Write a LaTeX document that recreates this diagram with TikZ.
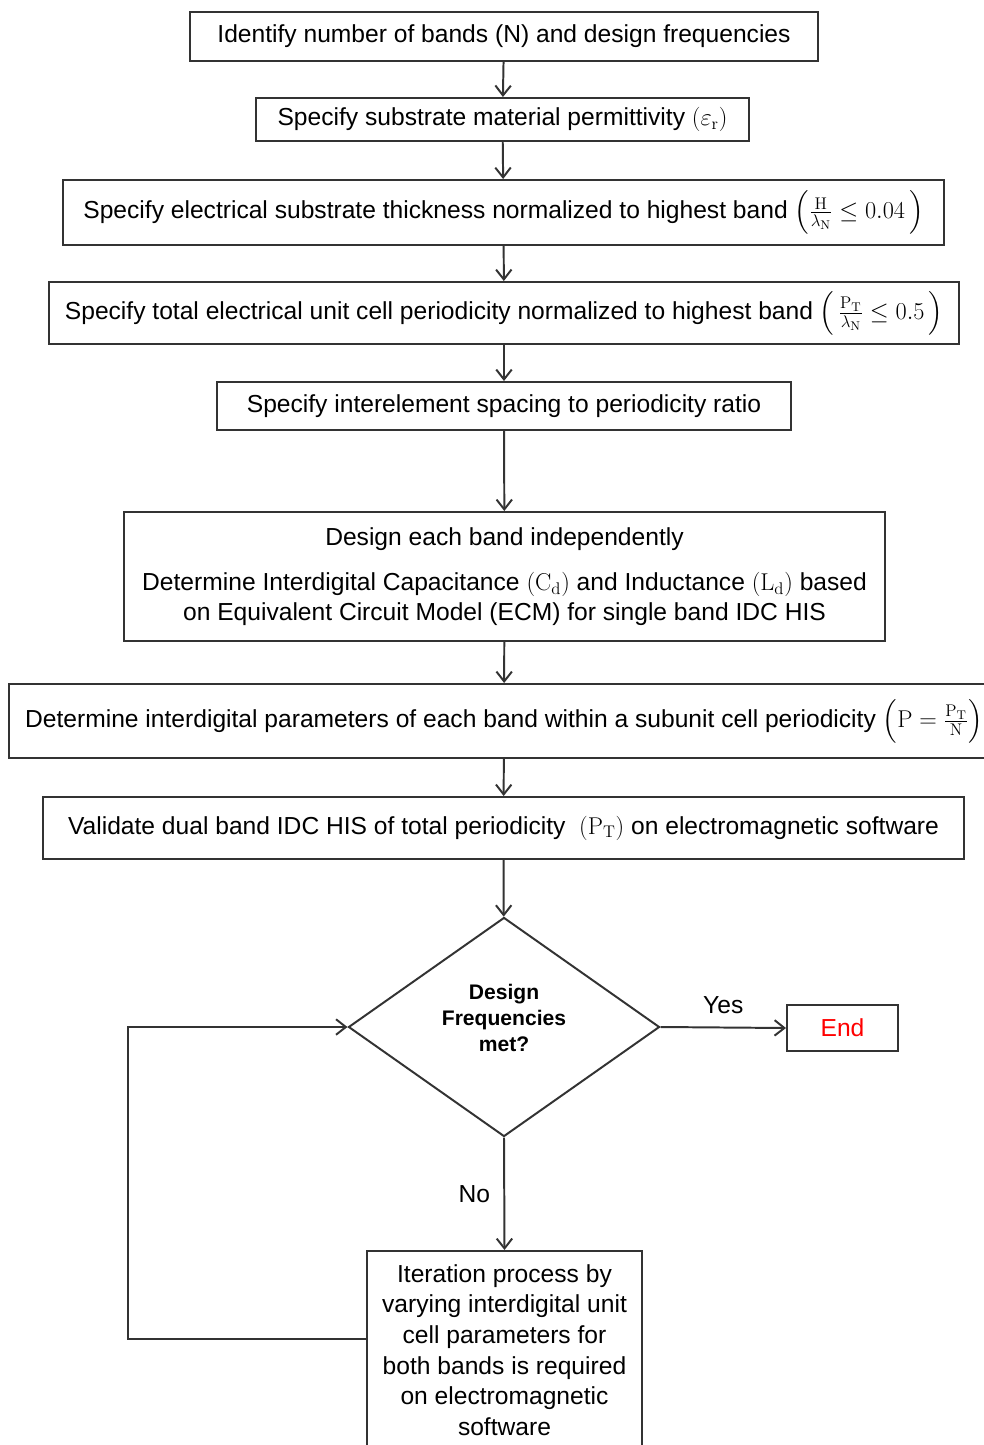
\documentclass[tikz,border=0pt]{standalone}
\usepackage{amsmath}
\usepackage[no-math]{fontspec}
\setmainfont{Liberation Sans}
\usetikzlibrary{shapes.geometric, arrows.meta, positioning}

\begin{document}
\begin{tikzpicture}[x=0.025cm, y=-0.025cm,
    font=\fontsize{17.5}{21.3}\selectfont,
    box/.style={draw=black!80, line width=1.4pt, align=center, inner sep=2pt},
    arrow/.style={-{Straight Barb[length=7pt, width=11pt]}, line width=1.4pt, draw=black!80}]
    \useasboundingbox (0,0) rectangle (984,1445);

    % steps of the design procedure
    \node[box, minimum width=15.7cm, minimum height=1.225cm] (bands) at (504,36.5)
        {Identify number of bands (N) and design frequencies};
    \node[box, minimum width=12.325cm, minimum height=1.075cm] (perm) at (502.5,119.5)
        {Specify substrate material permittivity $(\varepsilon_{\mathrm{r}})$};
    \node[box, minimum width=22.025cm, minimum height=1.625cm] (thick) at (503.5,212.5)
        {Specify electrical substrate thickness normalized to highest band $\left(\frac{\mathrm{H}}{\lambda_{\mathrm{N}}} \leq 0.04\,\right)$};
    \node[box, minimum width=22.75cm, minimum height=1.55cm] (period) at (504,313)
        {Specify total electrical unit cell periodicity normalized to highest band $\left(\,\frac{\mathrm{P_T}}{\lambda_{\mathrm{N}}} \leq 0.5\,\right)$};
    \node[box, minimum width=14.35cm, minimum height=1.2cm] (ratio) at (504,406)
        {Specify interelement spacing to periodicity ratio};
    \node[box, minimum width=19.025cm, minimum height=3.225cm] (ecm) at (504.5,576.5)
        {Design each band independently\\[11pt]
         Determine Interdigital Capacitance $(\mathrm{C_d})$ and Inductance $(\mathrm{L_d})$ based\\
         on Equivalent Circuit Model (ECM) for single band IDC HIS};
    \node[box, minimum width=24.75cm, minimum height=1.85cm] (idc) at (504,721)
        {Determine interdigital parameters of each band within a subunit cell periodicity $\Bigl(\mathrm{P} = \frac{\mathrm{P_T}}{\mathrm{N}}\Bigr)$};
    \node[box, minimum width=23.025cm, minimum height=1.55cm] (valid) at (503.5,828)
        {Validate dual band IDC HIS of total periodicity \ $(\mathrm{P_T})$ on electromagnetic software};

    % decision and outcomes
    \node[diamond, draw=black!80, line width=1.4pt, minimum width=7.775cm, minimum height=5.475cm,
          inner sep=0pt, align=center, font=\fontsize{15}{18.4}\selectfont\bfseries] (met) at (504,1027)
        {Design\\Frequencies\\met?\\[-5pt]};
    \node[box, minimum width=2.775cm, minimum height=1.15cm, text=red] (end) at (842.5,1028) {End};
    \node[box, minimum width=6.875cm, minimum height=4.95cm, anchor=north, inner ysep=4pt,
          font=\fontsize{17.5}{21.8}\selectfont] (iter) at (504.5,1250)
        {Iteration process by\\varying interdigital unit\\cell parameters for\\both bands is required\\on electromagnetic\\software};
    \coordinate (loop) at (128,1339);

    % connectors
    \draw[arrow] (bands) -- (perm);
    \draw[arrow] (perm) -- (thick);
    \draw[arrow] (thick) -- (period);
    \draw[arrow] (period) -- (ratio);
    \draw[arrow] (ratio) -- (ecm);
    \draw[arrow] (ecm) -- (idc);
    \draw[arrow] (idc) -- (valid);
    \draw[arrow] (valid) -- (met);
    \draw[arrow] (met.east) -- node[above=6pt] {Yes} (end.west);
    \draw[arrow] (met.south) -- node[left=6pt] {No} (iter.north);
    \draw[arrow] (iter.west |- loop) -- (loop) |- (met.west);
\end{tikzpicture}
\end{document}
